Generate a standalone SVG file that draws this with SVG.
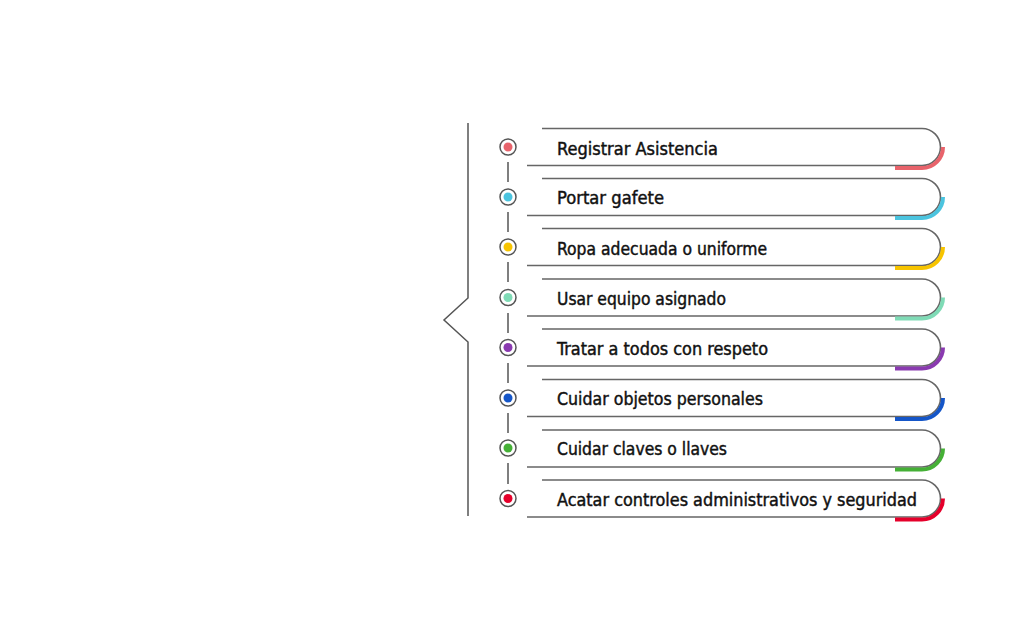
<svg xmlns="http://www.w3.org/2000/svg" width="1024" height="620" viewBox="0 0 1024 620">
<style>
.frame{fill:none;stroke:#666;stroke-width:1.6}
.acc{fill:none;stroke-width:4}
.ring{fill:#fff;stroke:#555;stroke-width:1.5}
.lbl{font-family:"DejaVu Sans Condensed","DejaVu Sans",sans-serif;font-stretch:condensed;font-size:18.5px;fill:#111;stroke:#111;stroke-width:0.45}
.conn{stroke:#555;stroke-width:1.5;fill:none}
</style>
<rect width="1024" height="620" fill="#fff"/>
<g id="bracket">
<path class="conn" d="M468 123 V298 L444 320 L468 342 V516"/>
</g>
<g id="connectors">
<line class="conn" x1="508" y1="162" x2="508" y2="182"/>
<line class="conn" x1="508" y1="212" x2="508" y2="232"/>
<line class="conn" x1="508" y1="262" x2="508" y2="282"/>
<line class="conn" x1="508" y1="313" x2="508" y2="333"/>
<line class="conn" x1="508" y1="363" x2="508" y2="383"/>
<line class="conn" x1="508" y1="413" x2="508" y2="433"/>
<line class="conn" x1="508" y1="463" x2="508" y2="484"/>
</g>
<g id="n1"><path class="frame" d="M542 128.5 H922 A18.5 18.5 0 0 1 922 165.5 H527"/><path class="acc" stroke="#e8636b" d="M943 147 A21 21 0 0 1 922 168 H895"/><circle class="ring" cx="508" cy="147" r="8"/><circle cx="508" cy="147" r="4.5" fill="#e8636b"/><text class="lbl" x="557" y="154.5" textLength="161" lengthAdjust="spacingAndGlyphs">Registrar Asistencia</text></g>
<g id="n2"><path class="frame" d="M542 178.5 H922 A18.5 18.5 0 0 1 922 215.5 H527"/><path class="acc" stroke="#4bc4df" d="M943 197 A21 21 0 0 1 922 218 H895"/><circle class="ring" cx="508" cy="197" r="8"/><circle cx="508" cy="197" r="4.5" fill="#4bc4df"/><text class="lbl" x="557" y="204" textLength="107" lengthAdjust="spacingAndGlyphs">Portar gafete</text></g>
<g id="n3"><path class="frame" d="M542 228.5 H922 A18.5 18.5 0 0 1 922 265.5 H527"/><path class="acc" stroke="#f7c400" d="M943 247 A21 21 0 0 1 922 268 H895"/><circle class="ring" cx="508" cy="247" r="8"/><circle cx="508" cy="247" r="4.5" fill="#f7c400"/><text class="lbl" x="557" y="254.5" textLength="210" lengthAdjust="spacingAndGlyphs">Ropa adecuada o uniforme</text></g>
<g id="n4"><path class="frame" d="M542 279 H922 A18.5 18.5 0 0 1 922 316 H527"/><path class="acc" stroke="#7fdbb6" d="M943 297.5 A21 21 0 0 1 922 318.5 H895"/><circle class="ring" cx="508" cy="297.5" r="8"/><circle cx="508" cy="297.5" r="4.5" fill="#7fdbb6"/><text class="lbl" x="557" y="304.5" textLength="169" lengthAdjust="spacingAndGlyphs">Usar equipo asignado</text></g>
<g id="n5"><path class="frame" d="M542 329 H922 A18.5 18.5 0 0 1 922 366 H527"/><path class="acc" stroke="#8a3ab0" d="M943 347.5 A21 21 0 0 1 922 368.5 H895"/><circle class="ring" cx="508" cy="347.5" r="8"/><circle cx="508" cy="347.5" r="4.5" fill="#8a3ab0"/><text class="lbl" x="557" y="354.5" textLength="211" lengthAdjust="spacingAndGlyphs">Tratar a todos con respeto</text></g>
<g id="n6"><path class="frame" d="M542 379.5 H922 A18.5 18.5 0 0 1 922 416.5 H527"/><path class="acc" stroke="#1556c8" d="M943 398 A21 21 0 0 1 922 419 H895"/><circle class="ring" cx="508" cy="398" r="8"/><circle cx="508" cy="398" r="4.5" fill="#1556c8"/><text class="lbl" x="557" y="405" textLength="206" lengthAdjust="spacingAndGlyphs">Cuidar objetos personales</text></g>
<g id="n7"><path class="frame" d="M542 430 H922 A18.5 18.5 0 0 1 922 467 H527"/><path class="acc" stroke="#45b036" d="M943 448.5 A21 21 0 0 1 922 469.5 H895"/><circle class="ring" cx="508" cy="448" r="8"/><circle cx="508" cy="448" r="4.5" fill="#45b036"/><text class="lbl" x="557" y="455" textLength="170" lengthAdjust="spacingAndGlyphs">Cuidar claves o llaves</text></g>
<g id="n8"><path class="frame" d="M542 480 H922 A18.5 18.5 0 0 1 922 517 H527"/><path class="acc" stroke="#e5002b" d="M943 498.5 A21 21 0 0 1 922 519.5 H895"/><circle class="ring" cx="508" cy="498.5" r="8"/><circle cx="508" cy="498.5" r="4.5" fill="#e5002b"/><text class="lbl" x="557" y="505.5" textLength="360" lengthAdjust="spacingAndGlyphs">Acatar controles administrativos y seguridad</text></g>
</svg>
